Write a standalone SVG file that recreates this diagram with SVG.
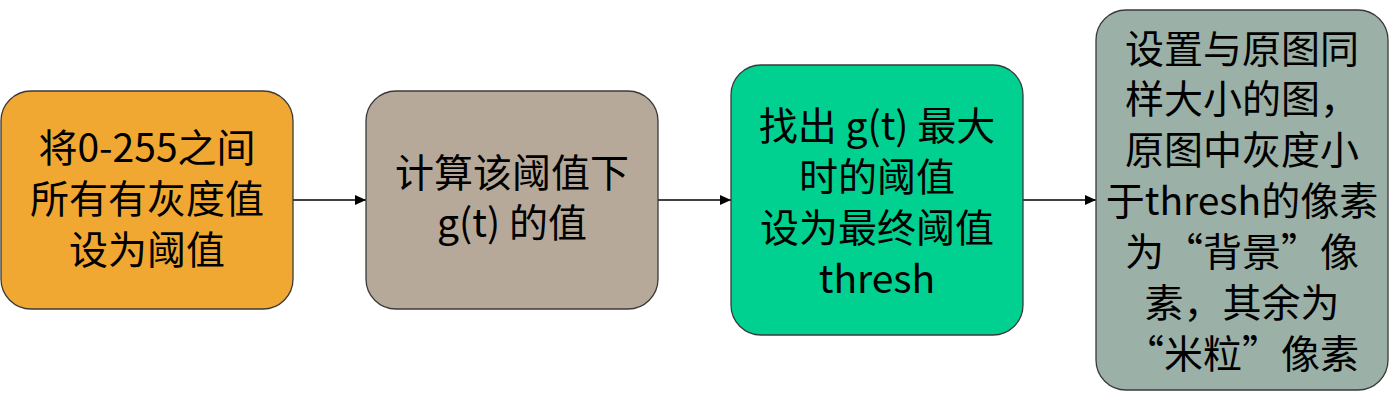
<svg xmlns="http://www.w3.org/2000/svg" width="1400" height="400" viewBox="0 0 1400 400">
<defs>
<style>
.box{stroke:#3a3a3a;stroke-width:1.3}
.t{font-family:"Noto Sans CJK SC","Noto Sans",sans-serif;font-size:39px;fill:#000;text-anchor:middle}
.c{stroke:#000;stroke-width:1.5;fill:none;marker-end:url(#ah)}
</style>
<marker id="ah" markerWidth="12" markerHeight="10" refX="11" refY="5" orient="auto" markerUnits="userSpaceOnUse">
<path d="M0,0 L11,5 L0,10 Z" fill="#000"/>
</marker>
</defs>
<rect width="1400" height="400" fill="#fff"/>
<g id="connectors">
<line class="c" x1="293" y1="200" x2="366" y2="200"/>
<line class="c" x1="658" y1="200" x2="731" y2="200"/>
<line class="c" x1="1023" y1="200" x2="1096" y2="200"/>
</g>
<g id="node1">
<rect class="box" x="1" y="91" width="292" height="218" rx="30" fill="#F1A832"/>
<text class="t" x="147" y="162">将0-255之间</text>
<text class="t" x="147" y="213">所有有灰度值</text>
<text class="t" x="147" y="264">设为阈值</text>
</g>
<g id="node2">
<rect class="box" x="366" y="91" width="292" height="218" rx="30" fill="#B6A999"/>
<text class="t" x="512" y="187">计算该阈值下</text>
<text class="t" x="512" y="237">g(t) 的值</text>
</g>
<g id="node3">
<rect class="box" x="731" y="65" width="292" height="270" rx="30" fill="#00D090"/>
<text class="t" x="877" y="140">找出 g(t) 最大</text>
<text class="t" x="877" y="191">时的阈值</text>
<text class="t" x="877" y="242">设为最终阈值</text>
<text class="t" x="877" y="293">thresh</text>
</g>
<g id="node4">
<rect class="box" x="1096" y="10" width="292" height="380" rx="30" fill="#9BB0A6"/>
<text class="t" x="1242" y="63">设置与原图同</text>
<text class="t" x="1242" y="113">样大小的图，</text>
<text class="t" x="1242" y="164">原图中灰度小</text>
<text class="t" x="1242" y="215">于thresh的像素</text>
<text class="t" x="1242" y="266">为“背景”像</text>
<text class="t" x="1242" y="317">素，其余为</text>
<text class="t" x="1242" y="368">“米粒”像素</text>
</g>
</svg>
